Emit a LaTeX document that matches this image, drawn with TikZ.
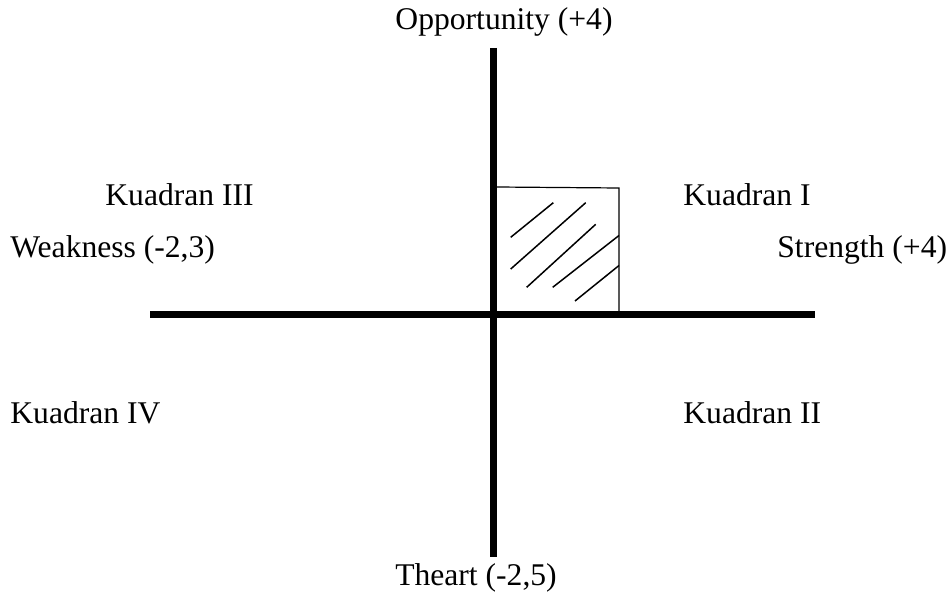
\documentclass[tikz,border=0pt]{standalone}
\usepackage{fontspec}
\setmainfont{Liberation Serif}
\usetikzlibrary{positioning}

\begin{document}
\begin{tikzpicture}[x=0.5pt,y=-0.5pt,
  every node/.style={font=\fontsize{15.8}{19}\selectfont, inner sep=0pt},
  lbl/.style={anchor=west},
  axis/.style={line width=3.5pt},
  box/.style={line width=0.6pt},
  hatch/.style={line width=0.75pt}]
  \useasboundingbox (0,0) rectangle (952,593);
  % axes
  \coordinate (top)    at (493,48);
  \coordinate (bottom) at (493,557);
  \coordinate (left)   at (150,314);
  \coordinate (right)  at (815,314);
  \draw[axis] (top) -- (bottom);
  \draw[axis] (left) -- (right);
  % shaded area
  \coordinate (b1) at (497,187);
  \coordinate (b2) at (619,188);
  \coordinate (b3) at (619,314);
  \draw[box] (b1) -- (b2) -- (b3);
  \draw[hatch] (510.7,237.3) -- (553.3,202.7)
               (510.7,269) -- (585.7,202.7)
               (526.7,287.3) -- (595.7,224.3)
               (552.7,287.3) -- (619,235.5)
               (575,301) -- (619,265.5);
  % labels
  \node (opp) at (504,22) {Opportunity (+4)};
  \node (thr) at (476,578) {Theart (-2,5)};
  \node[lbl] (q3) at (105,195) {Kuadran III};
  \node[lbl] (q1) at (683,195) {Kuadran I};
  \node[lbl] (weak) at (10,250) {Weakness (-2,3)};
  \node[lbl] (str) at (777,250) {Strength (+4)};
  \node[lbl] (q4) at (10,413) {Kuadran IV};
  \node[lbl] (q2) at (683,413) {Kuadran II};
\end{tikzpicture}
\end{document}
